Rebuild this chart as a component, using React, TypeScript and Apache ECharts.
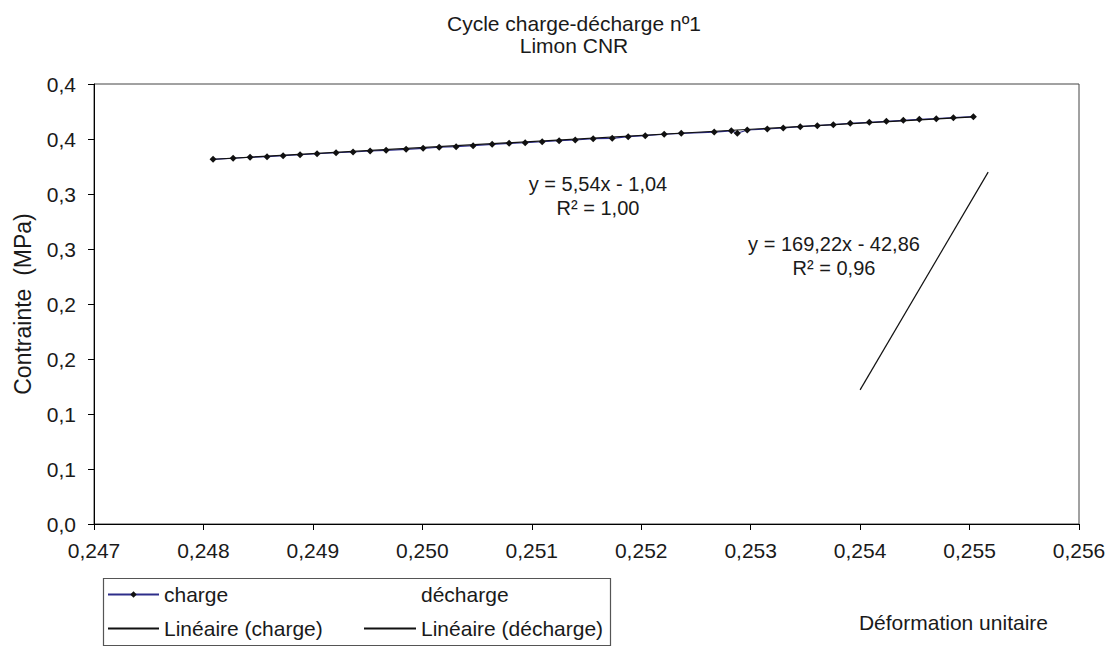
import React, { useEffect, useRef } from "react";
import * as echarts from "echarts";

const titleText = "Cycle charge-décharge nº1\nLimon CNR";
const xAxisName = "Déformation unitaire";
const yAxisName = "Contrainte  (MPa)";
const xTickLabels = ["0,247", "0,248", "0,249", "0,250", "0,251", "0,252", "0,253", "0,254", "0,255", "0,256"];
const yTickLabels = ["0,0", "0,1", "0,1", "0,2", "0,2", "0,3", "0,3", "0,4", "0,4"];

// charge series (strain, stress)
const chargeX = [
  0.248088, 0.248271, 0.248426, 0.248581, 0.248728, 0.248883, 0.249038, 0.249212, 0.249367, 0.249523,
  0.249669, 0.249852, 0.250007, 0.250154, 0.250309, 0.250464, 0.250638, 0.250793, 0.25094, 0.251095,
  0.25125, 0.251397, 0.251561, 0.251735, 0.251881, 0.252037, 0.25221, 0.252366, 0.252667, 0.252823,
  0.252878, 0.252969, 0.253152, 0.253298, 0.253453, 0.253609, 0.253755, 0.25391, 0.254084, 0.25424,
  0.254395, 0.254541, 0.254696, 0.254852, 0.255035,
];
const chargeY = [
  0.3315, 0.3325, 0.3334, 0.3339, 0.3348, 0.3357, 0.3366, 0.3375, 0.3382, 0.3391,
  0.3397, 0.3406, 0.3415, 0.3425, 0.343, 0.3439, 0.3452, 0.3461, 0.3466, 0.3475,
  0.3485, 0.3491, 0.3503, 0.3506, 0.3521, 0.353, 0.3543, 0.3552, 0.3563, 0.3574,
  0.3552, 0.3582, 0.3591, 0.36, 0.3612, 0.3621, 0.363, 0.3643, 0.3652, 0.3661,
  0.367, 0.3679, 0.3685, 0.3694, 0.3703,
];
// décharge series: drawn with neither line nor marker in the reference
const dechargeX: number[] = [];
const dechargeY: number[] = [];

// linear trend lines (end points as read)
const chargeTrendX = [0.24809, 0.25504];
const chargeTrendY = [0.3316, 0.3702];
const dechargeTrendX = [0.254, 0.25517];
const dechargeTrendY = [0.1219, 0.3199];

const chargeEquation = ["y = 5,54x - 1,04", "R² = 1,00"];
const dechargeEquation = ["y = 169,22x - 42,86", "R² = 0,96"];

const FONT = "'Liberation Sans', Arial, sans-serif";
const TXT = "#1a1a1a";

const zip = (xs: number[], ys: number[]) => xs.map((x, i) => [x, ys[i]]);

export default function App() {
  const ref = useRef<HTMLDivElement>(null);
  useEffect(() => {
    if (!ref.current) return;
    const chart = echarts.init(ref.current, undefined, { renderer: "svg" });
    const legendText = { fontFamily: FONT, fontSize: 21, color: TXT };
    const eqStyle = (text: string) => ({ text, fontFamily: FONT, fontSize: 20, fill: TXT, textAlign: "center", textVerticalAlign: "middle" });
    chart.setOption({
      animation: false,
      backgroundColor: "#ffffff",
      textStyle: { fontFamily: FONT },
      title: {
        text: titleText,
        left: 569,
        top: 7,
        textAlign: "center",
        textStyle: { fontFamily: FONT, fontSize: 21, fontWeight: "normal", color: TXT, lineHeight: 22 },
      },
      grid: { left: 94, right: 35, top: 84, bottom: 122, show: true, borderColor: "#444", borderWidth: 1 },
      xAxis: {
        type: "value",
        min: 0.247,
        max: 0.256,
        interval: 0.001,
        axisLine: { onZero: false, lineStyle: { color: "#000", width: 1 } },
        axisTick: { show: true, inside: false, length: 6, lineStyle: { color: "#000" } },
        axisLabel: {
          margin: 16,
          fontFamily: FONT,
          fontSize: 21,
          color: TXT,
          formatter: (v: number) => xTickLabels[Math.round((v - 0.247) / 0.001)] ?? "",
        },
        splitLine: { show: false },
      },
      yAxis: {
        type: "value",
        min: 0,
        max: 0.4,
        interval: 0.05,
        name: yAxisName,
        nameLocation: "middle",
        nameRotate: 90,
        nameGap: 60,
        nameTextStyle: { fontFamily: FONT, fontSize: 23, color: TXT },
        axisLine: { show: true, lineStyle: { color: "#000", width: 1 } },
        axisTick: { show: true, inside: false, length: 6, lineStyle: { color: "#000" } },
        axisLabel: {
          margin: 18,
          fontFamily: FONT,
          fontSize: 21,
          color: TXT,
          formatter: (v: number) => yTickLabels[Math.round(v / 0.05)] ?? "",
        },
        splitLine: { show: false },
      },
      legend: [
        {
          orient: "vertical",
          left: 107,
          top: 584,
          padding: 0,
          itemWidth: 51,
          itemHeight: 8,
          itemGap: 13,
          textStyle: legendText,
          data: ["charge", "Linéaire (charge)"],
        },
        {
          orient: "vertical",
          left: 363,
          top: 584,
          padding: 0,
          itemWidth: 52,
          itemHeight: 8,
          itemGap: 13,
          textStyle: legendText,
          data: ["décharge", "Linéaire (décharge)"],
        },
      ],
      graphic: [
        { type: "rect", left: 101, top: 576, shape: { width: 507, height: 67 }, style: { fill: "none", stroke: "#555", lineWidth: 1.2 }, z: -1 },
        { type: "text", x: 598, y: 184, style: eqStyle(chargeEquation[0]) },
        { type: "text", x: 598, y: 208, style: eqStyle(chargeEquation[1]) },
        { type: "text", x: 834, y: 244, style: eqStyle(dechargeEquation[0]) },
        { type: "text", x: 834, y: 268, style: eqStyle(dechargeEquation[1]) },
        {
          type: "text",
          x: 1048,
          y: 622,
          style: { text: xAxisName, fontFamily: FONT, fontSize: 21, fill: TXT, textAlign: "right", textVerticalAlign: "middle" },
        },
      ],
      series: [
        {
          name: "charge",
          type: "line",
          data: zip(chargeX, chargeY),
          symbol: "diamond",
          symbolSize: 7,
          showSymbol: true,
          lineStyle: { color: "#2e2e8a", width: 1.2 },
          itemStyle: { color: "#111" },
          z: 2,
        },
        {
          name: "décharge",
          type: "line",
          data: zip(dechargeX, dechargeY),
          symbol: "circle",
          symbolSize: 0,
          showSymbol: false,
          lineStyle: { color: "rgba(0,0,0,0)", width: 0 },
          itemStyle: { color: "rgba(0,0,0,0)" },
        },
        {
          name: "Linéaire (charge)",
          type: "line",
          data: zip(chargeTrendX, chargeTrendY),
          symbol: "circle",
          symbolSize: 0,
          showSymbol: false,
          lineStyle: { color: "#111", width: 1.2 },
          itemStyle: { color: "rgba(0,0,0,0)" },
          z: 3,
        },
        {
          name: "Linéaire (décharge)",
          type: "line",
          data: zip(dechargeTrendX, dechargeTrendY),
          symbol: "circle",
          symbolSize: 0,
          showSymbol: false,
          lineStyle: { color: "#111", width: 1.2 },
          itemStyle: { color: "rgba(0,0,0,0)" },
          z: 3,
        },
      ],
    });
    return () => chart.dispose();
  }, []);
  return <div ref={ref} style={{ position: "fixed", left: 0, top: 0, width: 1114, height: 646, background: "#fff" }} />;
}
